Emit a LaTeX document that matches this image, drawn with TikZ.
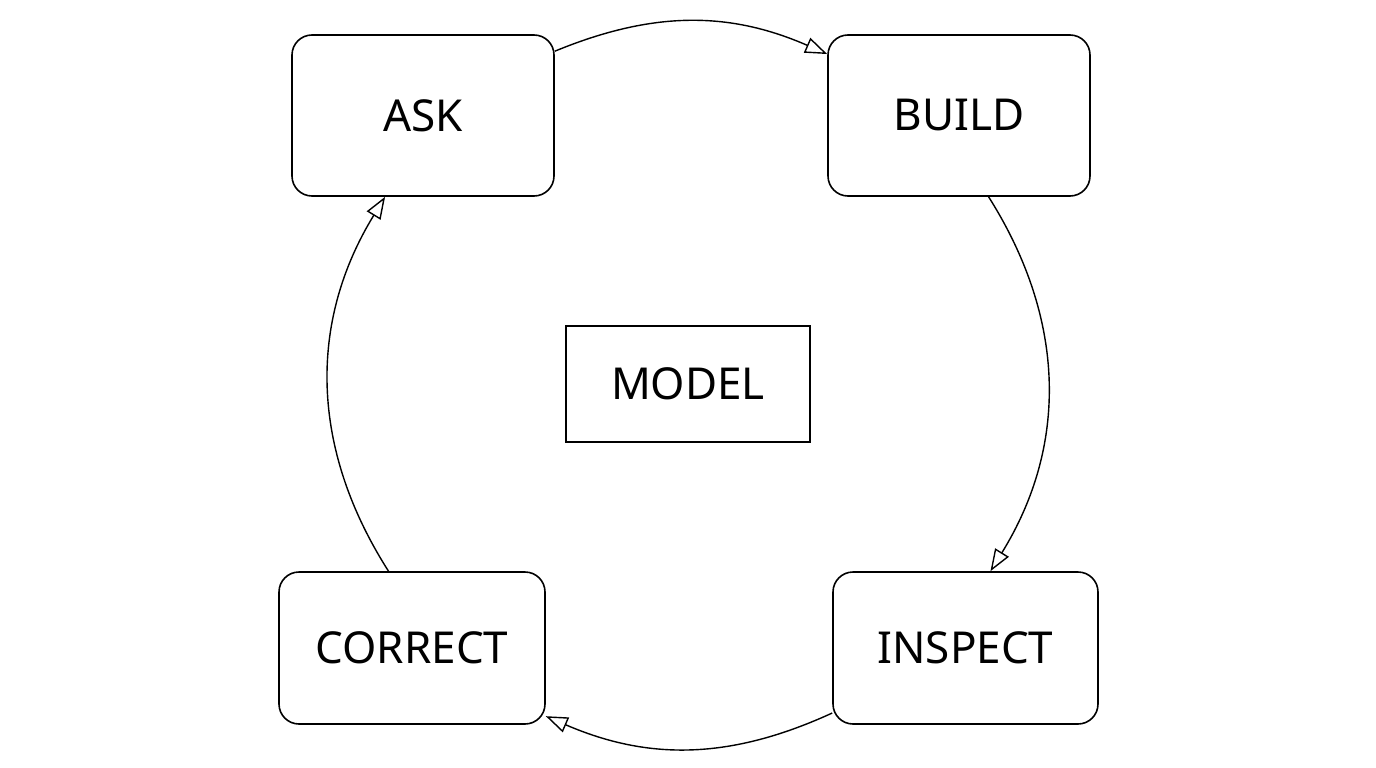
\documentclass[tikz,border=0pt]{standalone}
\usepackage{fontspec}
\setmainfont{Noto Sans}
\usetikzlibrary{arrows.meta}
\begin{document}
\begin{tikzpicture}[x=1pt,y=-1pt,
  box/.style={draw,line width=1.6pt,rounded corners=20pt,minimum width=262pt,minimum height=161pt,font=\fontsize{44}{50}\selectfont},
  link/.style={line width=1.4pt,-{Triangle[open,length=22pt,width=16pt]}}]
\useasboundingbox (0,0) rectangle (1376,768);
\node[box] (ask) at (423,115.5) {ASK};
\node[box] (build) at (959,115.5) {BUILD};
\node[box,minimum width=265pt,minimum height=152pt] (inspect) at (965.5,648) {INSPECT};
\node[box,minimum width=266pt,minimum height=152pt] (correct) at (412,648) {CORRECT};
\node[draw,line width=1.4pt,minimum width=244pt,minimum height=116pt,font=\fontsize{44}{50}\selectfont] (model) at (688,384) {MODEL};
\draw[link] (ask.26) to[bend left=23] (build.155);
\draw[link] (build.-70) to[bend left=32] (inspect.72);
\draw[link] (inspect.206) to[bend left=24] (correct.-27);
\draw[link] (correct.107) to[bend left=32] (ask.245);
\end{tikzpicture}
\end{document}
